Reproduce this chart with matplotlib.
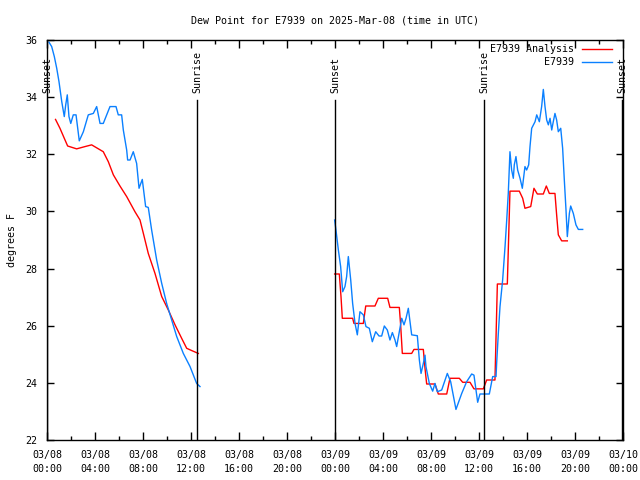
import numpy as np
import pandas as pd
import matplotlib
matplotlib.use("Agg")
import matplotlib.pyplot as plt
import matplotlib.dates as mdates

# horas desde 2025-03-08 00:00 UTC
base = pd.Timestamp("2025-03-08 00:00")

obs1_h = [0.17, 0.39, 0.61, 0.81, 1.0, 1.23, 1.44, 1.56, 1.69, 1.83, 1.98, 2.19, 2.42, 2.69,
          3.03, 3.44, 3.86, 4.14, 4.42, 4.69, 5.25, 5.75, 5.94, 6.22, 6.36, 6.64, 6.72, 6.92,
          7.19, 7.47, 7.67, 7.94, 8.22, 8.44, 8.72, 9.14, 9.56, 9.97, 10.39, 10.81, 11.36,
          11.92, 12.47, 12.75]
obs1_v = [35.92, 35.77, 35.42, 35.01, 34.54, 33.84, 33.32, 33.73, 34.08, 33.32, 33.08, 33.38,
          33.38, 32.47, 32.79, 33.38, 33.43, 33.67, 33.08, 33.08, 33.67, 33.67, 33.38, 33.38,
          32.85, 32.15, 31.8, 31.8, 32.09, 31.68, 30.81, 31.12, 30.17, 30.14, 29.35, 28.3,
          27.48, 26.78, 26.2, 25.62, 25.03, 24.57, 23.98, 23.87]

obs2_h = [23.97, 24.08, 24.28, 24.47, 24.64, 24.83, 24.97, 25.11, 25.31, 25.47, 25.67, 25.86,
          26.08, 26.36, 26.58, 26.86, 27.11, 27.39, 27.67, 27.89, 28.11, 28.36, 28.58, 28.78,
          29.0, 29.14, 29.36, 29.56, 29.75, 29.92, 30.11, 30.39, 30.86, 31.03, 31.17, 31.36,
          31.5, 31.58, 31.86, 32.14, 32.33, 32.53, 32.89, 33.36, 33.64, 34.08, 34.56, 34.97,
          35.39, 35.58, 35.89, 36.08, 36.86, 37.14, 37.42, 37.47, 37.61, 37.75, 37.97, 38.17,
          38.31, 38.44, 38.58, 38.72, 38.86, 38.94, 39.08, 39.22, 39.42, 39.61, 39.83, 39.97,
          40.14, 40.25, 40.39, 40.67, 40.81, 41.03, 41.22, 41.36, 41.5, 41.64, 41.78, 41.92,
          42.06, 42.19, 42.33, 42.47, 42.61, 42.81, 42.97, 43.11, 43.25, 43.36, 43.53, 43.64,
          43.86, 44.08, 44.28, 44.64]
obs2_v = [29.7, 29.35, 28.65, 28.07, 27.19, 27.37, 27.72, 28.42, 27.6, 26.78, 26.08, 25.68,
          26.49, 26.38, 25.97, 25.91, 25.44, 25.79, 25.64, 25.64, 25.99, 25.85, 25.5, 25.76,
          25.5, 25.27, 25.79, 26.26, 26.03, 26.26, 26.61, 25.68, 25.65, 24.8, 24.33, 24.68,
          24.97, 24.57, 23.98, 23.71, 23.98, 23.69, 23.75, 24.33, 24.04, 23.07, 23.63, 24.04,
          24.31, 24.27, 23.32, 23.61, 23.61, 24.22, 24.22, 24.68, 25.73, 26.67, 27.6, 28.77,
          29.7, 30.63, 32.09, 31.45, 31.16, 31.63, 31.92, 31.45, 31.16, 30.81, 31.57, 31.45,
          31.63, 32.27, 32.91, 33.14, 33.38, 33.14, 33.67, 34.27, 33.67, 33.2, 33.03, 33.26,
          32.85, 33.14, 33.43, 33.2, 32.79, 32.91, 32.21, 31.1, 30.05, 29.12, 29.93, 30.19,
          29.93, 29.53, 29.37, 29.37]

ana1_h = [0.71, 1.08, 1.44, 1.72, 2.47, 3.17, 3.72, 4.69, 5.11, 5.53, 6.08, 6.64, 7.33, 7.75,
          8.03, 8.44, 9.0, 9.56, 10.11, 10.67, 11.22, 11.64, 12.06, 12.61]
ana1_v = [33.22, 32.91, 32.56, 32.29, 32.19, 32.27, 32.33, 32.09, 31.74, 31.28, 30.89, 30.52,
          29.99, 29.7, 29.23, 28.53, 27.83, 27.02, 26.55, 26.03, 25.56, 25.21, 25.13, 25.03]

ana2_h = [23.97, 24.36, 24.5, 24.61, 25.47, 25.58, 26.36, 26.56, 27.33, 27.61, 28.39, 28.58,
          29.36, 29.47, 29.61, 30.39, 30.58, 31.36, 31.5, 31.64, 32.33, 32.61, 33.31, 33.58,
          34.36, 34.64, 35.25, 35.58, 36.36, 36.64, 37.33, 37.53, 38.36, 38.58, 39.36, 39.64,
          39.83, 40.31, 40.58, 40.86, 41.36, 41.61, 41.86, 42.33, 42.47, 42.61, 42.89, 43.36]
ana2_v = [27.81, 27.81, 27.02, 26.26, 26.26, 26.08, 26.08, 26.69, 26.69, 26.96, 26.96, 26.64,
          26.64, 26.03, 25.03, 25.03, 25.17, 25.17, 24.51, 23.96, 23.96, 23.61, 23.61, 24.16,
          24.16, 24.02, 24.02, 23.79, 23.79, 24.1, 24.1, 27.46, 27.46, 30.71, 30.71, 30.46,
          30.11, 30.17, 30.81, 30.61, 30.61, 30.89, 30.63, 30.63, 29.88, 29.18, 28.97, 28.97]

sunset_h = [0.0, 24.0, 47.92]
sunrise_h = [12.5, 36.45]


def tiempo(h):
    return base + pd.to_timedelta(np.array(h), unit="h")


plt.rcParams['font.family'] = 'DejaVu Sans Mono'
plt.rcParams['font.size'] = 7.2

fig = plt.figure(figsize=(6.4, 4.8), dpi=100)
ax = fig.add_axes([47/640, 40/480, 576/640, 400/480])

rojo = '#ff0000'
azul = '#0a80ff'
ax.plot(tiempo(ana1_h), ana1_v, color=rojo, lw=1, label='E7939 Analysis')
ax.plot(tiempo(ana2_h), ana2_v, color=rojo, lw=1)
ax.plot(tiempo(obs1_h), obs1_v, color=azul, lw=1, label='E7939')
ax.plot(tiempo(obs2_h), obs2_v, color=azul, lw=1)

# lineas de amanecer / atardecer
for nombre, horas in [('Sunset', sunset_h), ('Sunrise', sunrise_h)]:
    for t in tiempo(horas):
        ax.axvline(t, ymin=0, ymax=0.85, color='black', lw=1)
        ax.text(t, 34.15, nombre, rotation=90, ha='center', va='bottom', fontsize=7.2)

ax.set_xlim(base, base + pd.Timedelta(hours=48))
ax.set_ylim(22, 36)
ax.set_yticks(np.arange(22, 37, 2))
ax.xaxis.set_major_locator(mdates.HourLocator(byhour=[0, 4, 8, 12, 16, 20]))
ax.xaxis.set_minor_locator(mdates.HourLocator(byhour=range(0, 24, 2)))
ax.xaxis.set_major_formatter(mdates.DateFormatter('%m/%d\n%H:%M'))
ax.tick_params(which='major', direction='in', length=6, top=True, right=True, width=1, pad=7)
ax.tick_params(which='minor', direction='in', length=3, top=True, right=False, width=1)
ax.tick_params(axis='y', which='major', length=5, pad=7)
for sp in ax.spines.values():
    sp.set_linewidth(1)

ax.set_ylabel('degrees F', labelpad=6)
ax.set_title('Dew Point for E7939 on 2025-Mar-08 (time in UTC)', fontsize=7.2, pad=12)

ax.legend(loc='upper right', bbox_to_anchor=(0.997, 1.012), frameon=False, markerfirst=False,
          handlelength=3.0, handletextpad=0.8, labelspacing=0.3, fontsize=7.2)

fig.canvas.draw()
for lbl in ax.get_xticklabels():
    lbl.set_linespacing(1.5)

fig.savefig('out.png', dpi=100)
